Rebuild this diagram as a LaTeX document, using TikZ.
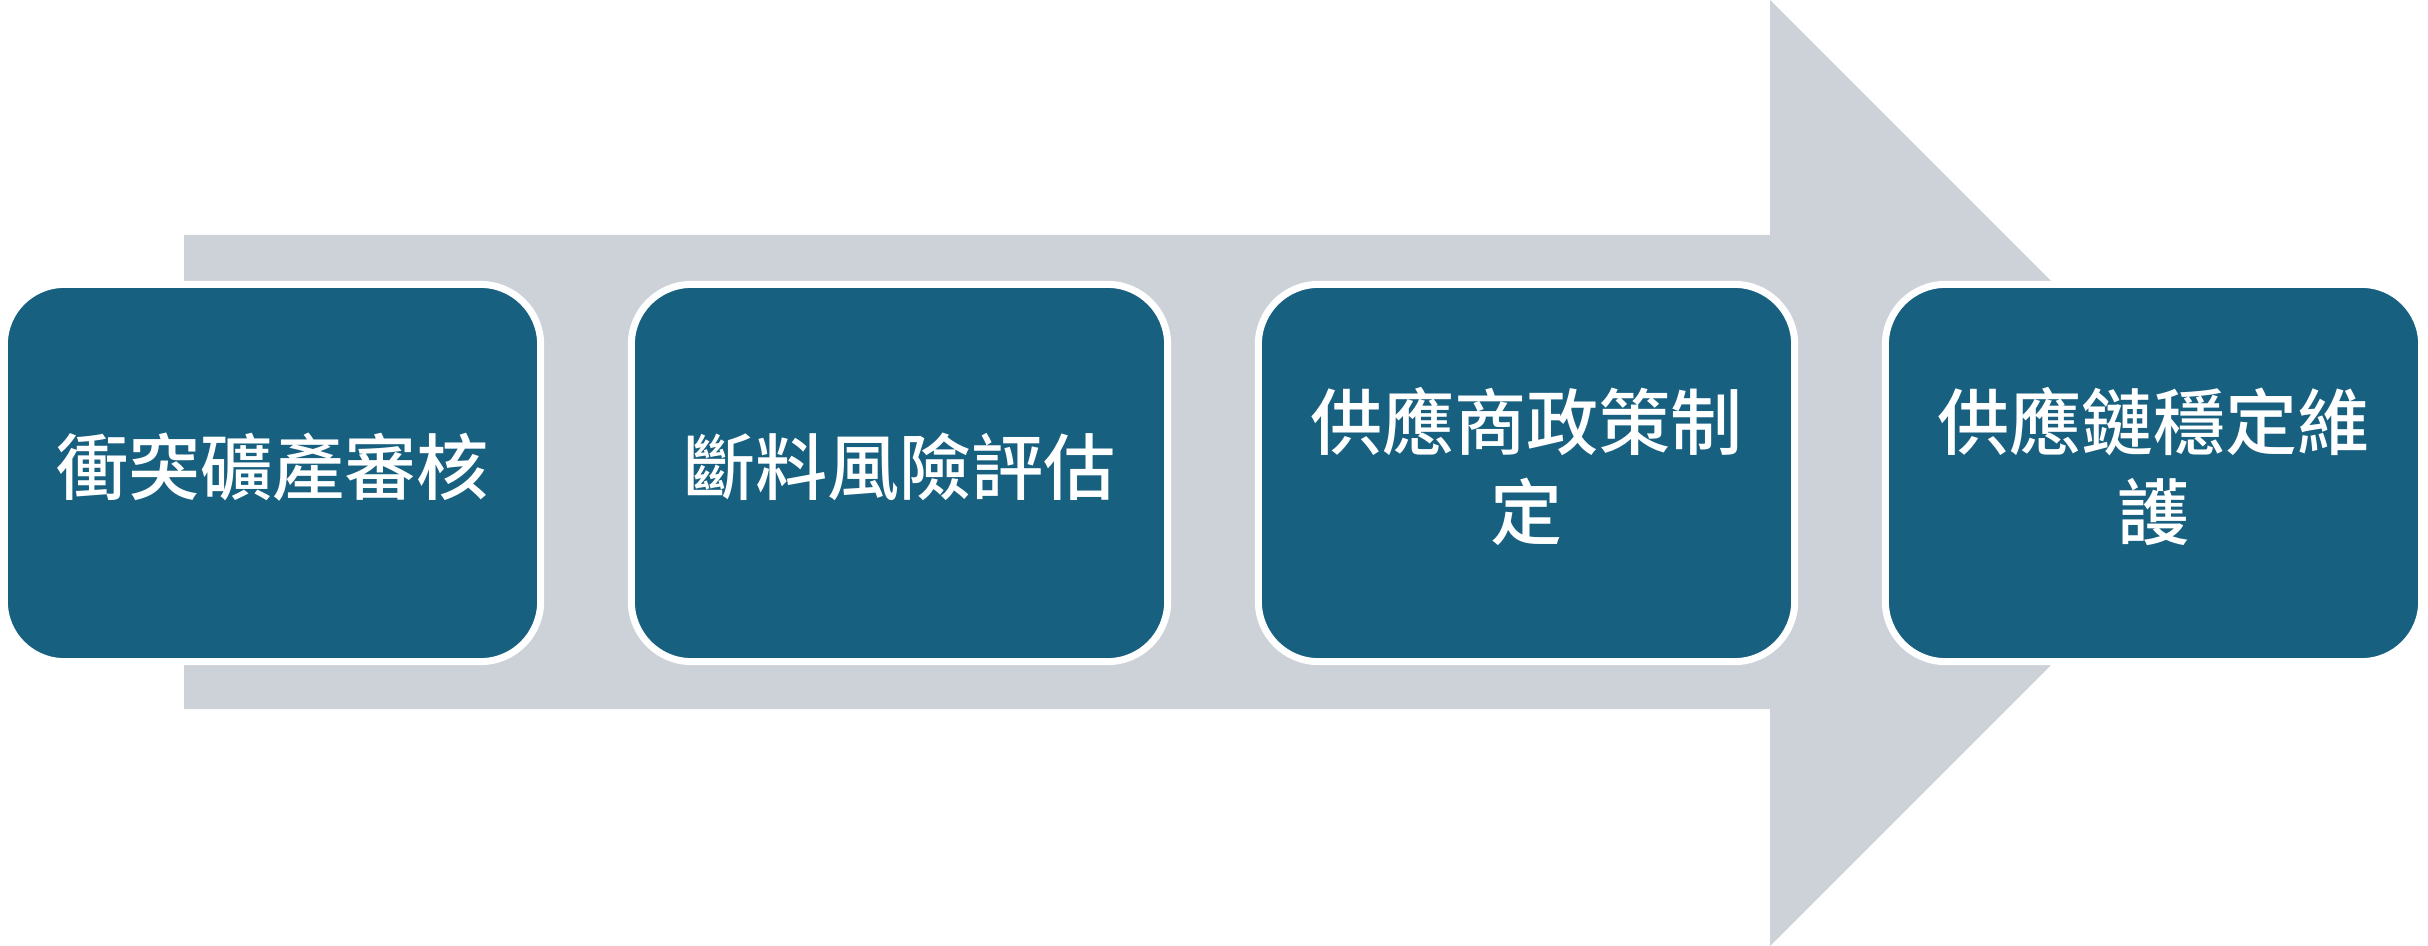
\documentclass[tikz,border=0pt]{standalone}
\usepackage{fontspec}
\newfontfamily\cjk{Noto Sans CJK TC}[UprightFont={* Medium}]
\definecolor{boxblue}{RGB}{24,96,128}
\definecolor{arrowgray}{RGB}{205,210,217}
\begin{document}
\begin{tikzpicture}[x=0.01cm,y=-0.01cm,
  stepbox/.style={rectangle, rounded corners=0.6cm, fill=boxblue, draw=white,
    line width=0.07cm, minimum width=5.36cm, minimum height=3.77cm,
    text=white, align=center, inner sep=0pt, text depth=0.19cm,
    font=\cjk\fontsize{20.5pt}{25.6pt}\selectfont}]
\useasboundingbox (0,0) rectangle (2428,946);
\fill[arrowgray] (184,235) -- (1770,235) -- (1770,0) -- (2243,473) -- (1770,946) -- (1770,709) -- (184,709) -- cycle;
\node[stepbox] (s1) at (272.5,473) {衝突礦產審核};
\node[stepbox] (s2) at (899.5,473) {斷料風險評估};
\node[stepbox] (s3) at (1526.5,473) {供應商政策制\\定};
\node[stepbox] (s4) at (2153.5,473) {供應鏈穩定維\\護};
\end{tikzpicture}
\end{document}
